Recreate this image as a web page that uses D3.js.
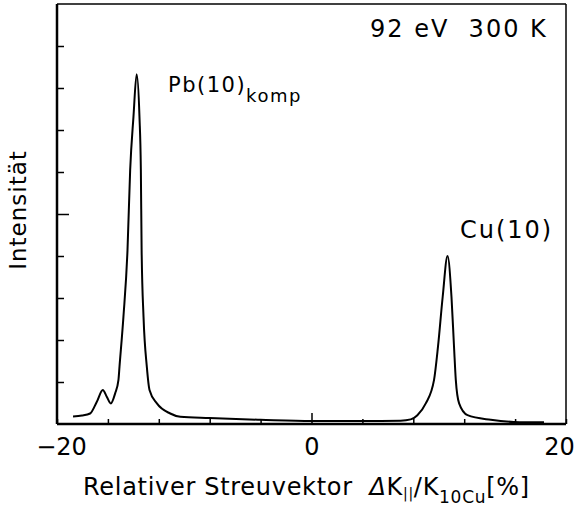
<!DOCTYPE html>
<html>
<head>
<meta charset="utf-8">
<script src="https://cdn.jsdelivr.net/npm/d3@7"></script>
<style>
  body { margin: 0; background: #fff; }
  text { font-family: "DejaVu Sans", sans-serif; fill: #000; }
</style>
</head>
<body>
<svg id="chart" width="578" height="518"></svg>
<script>
// scan values: relative scattering vector [%] and intensity (arb. units)
const scanX = [-18.74, -18.03, -17.40, -16.87, -16.40, -16.09, -15.77, -15.43, -15.17, -15.09,
  -14.78, -14.46, -14.25, -13.99, -13.74, -13.52, -13.41, -13.35, -13.20, -12.94, -12.73,
  -12.15, -11.10, -10.31, -8.03, -4.02, 0.0, 3.94, 7.0, 7.8, 8.32, 8.98, 9.63, 9.94, 10.31,
  10.69, 11.0, 11.20, 11.34, 11.60, 12.26, 14.09, 15.91, 18.27];
const scanY = [0.18, 0.20, 0.25, 0.53, 0.81, 0.65, 0.49, 0.73, 1.05, 1.36,
  2.55, 4.14, 6.05, 7.32, 8.33, 7.32, 6.05, 4.14, 2.55, 1.36, 0.81,
  0.49, 0.25, 0.17, 0.14, 0.10, 0.07, 0.07, 0.08, 0.11, 0.21, 0.49, 1.05, 1.84, 3.03,
  4.0, 3.03, 1.84, 1.05, 0.49, 0.21, 0.10, 0.05, 0.04];

const xTicks = [-20, -16, -12, -8, -4, 0, 4, 8, 12, 16, 20];
const xLabels = [-20, 0, 20];
const yTicks = [1, 2, 3, 4, 5, 6, 7, 8, 9];

const margin = { top: 4, right: 12, bottom: 94, left: 57 };
const width = 578 - margin.left - margin.right;
const height = 518 - margin.top - margin.bottom;

const svg = d3.select("#chart");
const g = svg.append("g").attr("transform", `translate(${margin.left},${margin.top})`);

const x = d3.scaleLinear().domain([-20, 20]).range([0, width]);
const y = d3.scaleLinear().domain([0, 10]).range([height, 0]);

// x axis: inward ticks, labels only at -20, 0, 20
const xAxis = d3.axisBottom(x)
  .tickValues(xTicks)
  .tickSize(-5)
  .tickSizeOuter(0)
  .tickPadding(14)
  .tickFormat(d => xLabels.includes(d) ? d3.format("d")(d) : "");

const gx = g.append("g")
  .attr("transform", `translate(0,${height})`)
  .call(xAxis);
gx.select(".domain").remove();
gx.selectAll(".tick line")
  .attr("stroke-width", 1.5)
  .attr("y2", d => d === 0 ? -11 : -5);
gx.selectAll(".tick text")
  .attr("font-size", 24)
  .attr("font-family", "DejaVu Sans, sans-serif")
  .attr("dx", d => d === 20 ? -7 : (d === -20 ? 4 : 0));

// y axis: inward ticks, no labels
const yAxis = d3.axisLeft(y)
  .tickValues(yTicks)
  .tickSize(-7)
  .tickSizeOuter(0)
  .tickFormat("");

const gy = g.append("g").call(yAxis);
gy.select(".domain").remove();
gy.selectAll(".tick line")
  .attr("stroke-width", 1.5)
  .attr("x2", d => d === 5 ? 12 : 7);

// frame
g.append("line").attr("x1", 0).attr("x2", width).attr("y1", height).attr("y2", height)
  .attr("stroke", "#000").attr("stroke-width", 2.5);
g.append("line").attr("x1", 0).attr("x2", 0).attr("y1", 0).attr("y2", height)
  .attr("stroke", "#000").attr("stroke-width", 2.5);
g.append("line").attr("x1", 0).attr("x2", width).attr("y1", 0).attr("y2", 0)
  .attr("stroke", "#000").attr("stroke-width", 1.5);
g.append("line").attr("x1", width).attr("x2", width).attr("y1", 0).attr("y2", height)
  .attr("stroke", "#000").attr("stroke-width", 1.5);

// scan curve
const line = d3.line()
  .x((d, i) => x(scanX[i]))
  .y(d => y(d))
  .curve(d3.curveMonotoneX);

g.append("path")
  .datum(scanY)
  .attr("d", line)
  .attr("fill", "none")
  .attr("stroke", "#000")
  .attr("stroke-width", 2);

// annotations
svg.append("text")
  .attr("x", 370).attr("y", 37)
  .attr("font-size", 24)
  .attr("letter-spacing", 2)
  .style("white-space", "pre")
  .text("92 eV  300 K");

const pb = svg.append("text")
  .attr("x", 168).attr("y", 92)
  .attr("font-size", 21)
  .attr("letter-spacing", 1.5);
pb.append("tspan").text("Pb(10)");
pb.append("tspan").attr("font-size", 18).attr("dy", 10).text("komp");

svg.append("text")
  .attr("x", 460).attr("y", 238)
  .attr("font-size", 24)
  .attr("letter-spacing", 2)
  .text("Cu(10)");

// axis titles
svg.append("text")
  .attr("transform", "translate(26,210) rotate(-90)")
  .attr("text-anchor", "middle")
  .attr("font-size", 23)
  .attr("letter-spacing", 1)
  .text("Intensität");

const xt = svg.append("text")
  .attr("x", 83).attr("y", 495)
  .attr("font-size", 24)
  .attr("letter-spacing", 0.7)
  .style("white-space", "pre");
xt.append("tspan").text("Relativer Streuvektor  ");
xt.append("tspan").attr("font-style", "italic").text("Δ");
xt.append("tspan").text("K");
xt.append("tspan").attr("font-size", 14).attr("dy", 3).text("||");
xt.append("tspan").attr("dy", -3).text("/K");
xt.append("tspan").attr("font-size", 17).attr("dy", 8).text("10Cu");
xt.append("tspan").attr("dy", -8).text("[%]");
</script>
</body>
</html>
